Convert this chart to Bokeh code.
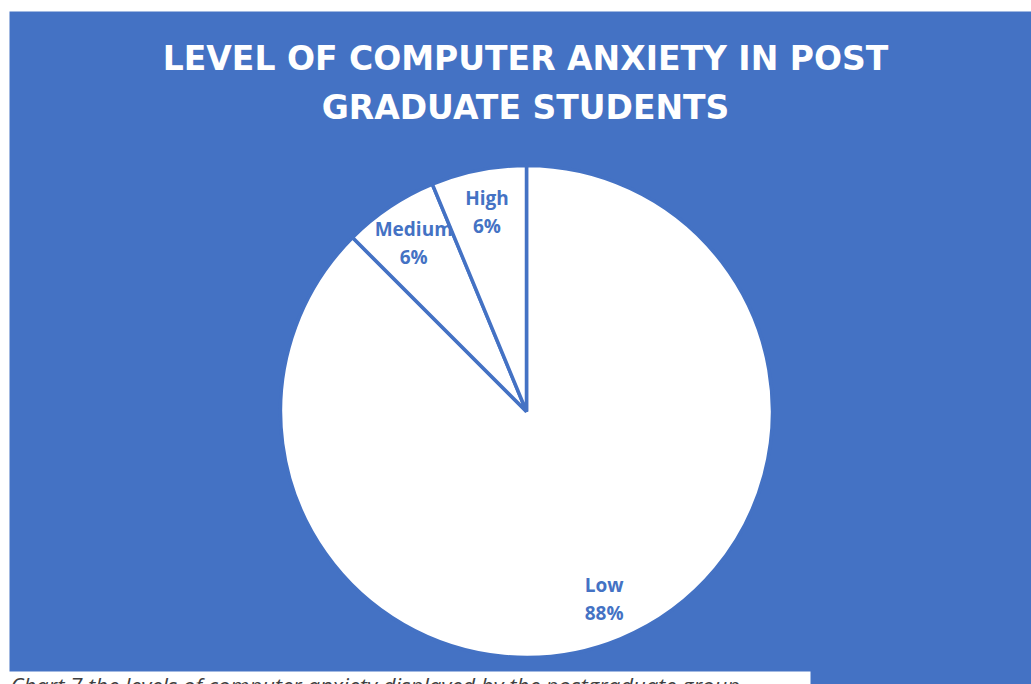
import math
from bokeh.plotting import figure
from bokeh.models import Range1d, ColumnDataSource
from bokeh.core.properties import value
from bokeh.embed import file_html
from bokeh.resources import INLINE

# ---- data ----
categories = ["Low", "Medium", "High"]
shares = [87.5, 6.25, 6.25]
title_lines = ["LEVEL OF COMPUTER ANXIETY IN POST", "GRADUATE STUDENTS"]
caption = "Chart 7 the levels of computer anxiety displayed by the postgraduate group"

BLUE = "#4472C4"
W, H = 1031, 684

def sy(v):  # screen y -> data y
    return H - v

p = figure(width=W, height=H, output_backend="svg", toolbar_location=None,
           x_range=Range1d(0, W), y_range=Range1d(0, H),
           x_axis_type=None, y_axis_type=None, min_border=0)
p.grid.visible = False
p.outline_line_color = None
p.background_fill_color = "white"
p.border_fill_color = "white"

# chart area background
p.quad(left=[9], right=[W], bottom=[sy(H)], top=[sy(11)], fill_color=BLUE, line_color=None)
# caption box
p.quad(left=[0], right=[810], bottom=[sy(H)], top=[sy(671)], fill_color="white", line_color=None)

# pie
cx, cy, R = 526, sy(411), 246
total = sum(shares)
starts, ends, lx, ly, names, pcts = [], [], [], [], [], []
cum = 0.0
for c, v in zip(categories, shares):
    a_end = 90 - cum / total * 360
    cum += v
    a_start = 90 - cum / total * 360
    starts.append(math.radians(a_start))
    ends.append(math.radians(a_end))
    mid = math.radians((a_start + a_end) / 2)
    lx.append(cx + 0.825 * R * math.cos(mid))
    ly.append(cy + 0.825 * R * math.sin(mid))
    names.append(c)
    pcts.append(f"{v:.0f}%")

src = ColumnDataSource(dict(start=starts, end=ends, lx=lx, ly=ly, name=names, pct=pcts))
p.wedge(x=cx, y=cy, radius=R, start_angle="start", end_angle="end", source=src,
        fill_color="white", line_color=BLUE, line_width=3.5)

p.text(x="lx", y="ly", text="name", source=src, y_offset=-14,
       text_font=value("Open Sans"), text_font_style="bold", text_font_size="19px",
       text_color=BLUE, text_align="center", text_baseline="middle")
p.text(x="lx", y="ly", text="pct", source=src, y_offset=14,
       text_font=value("Open Sans"), text_font_style="bold", text_font_size="19px",
       text_color=BLUE, text_align="center", text_baseline="middle")

# title
p.text(x=[525, 525], y=[sy(58), sy(107)], text=title_lines,
       text_font=value("DejaVu Sans"), text_font_style="bold", text_font_size="33px",
       text_color="white", text_align="center", text_baseline="middle")

# caption (cut off at bottom as in the source image)
p.text(x=[10], y=[sy(669)], text=[caption],
       text_font=value("Open Sans"), text_font_style="italic", text_font_size="22px",
       text_color="#404040", text_align="left", text_baseline="top")

open("out.html", "w").write(file_html(p, INLINE))
